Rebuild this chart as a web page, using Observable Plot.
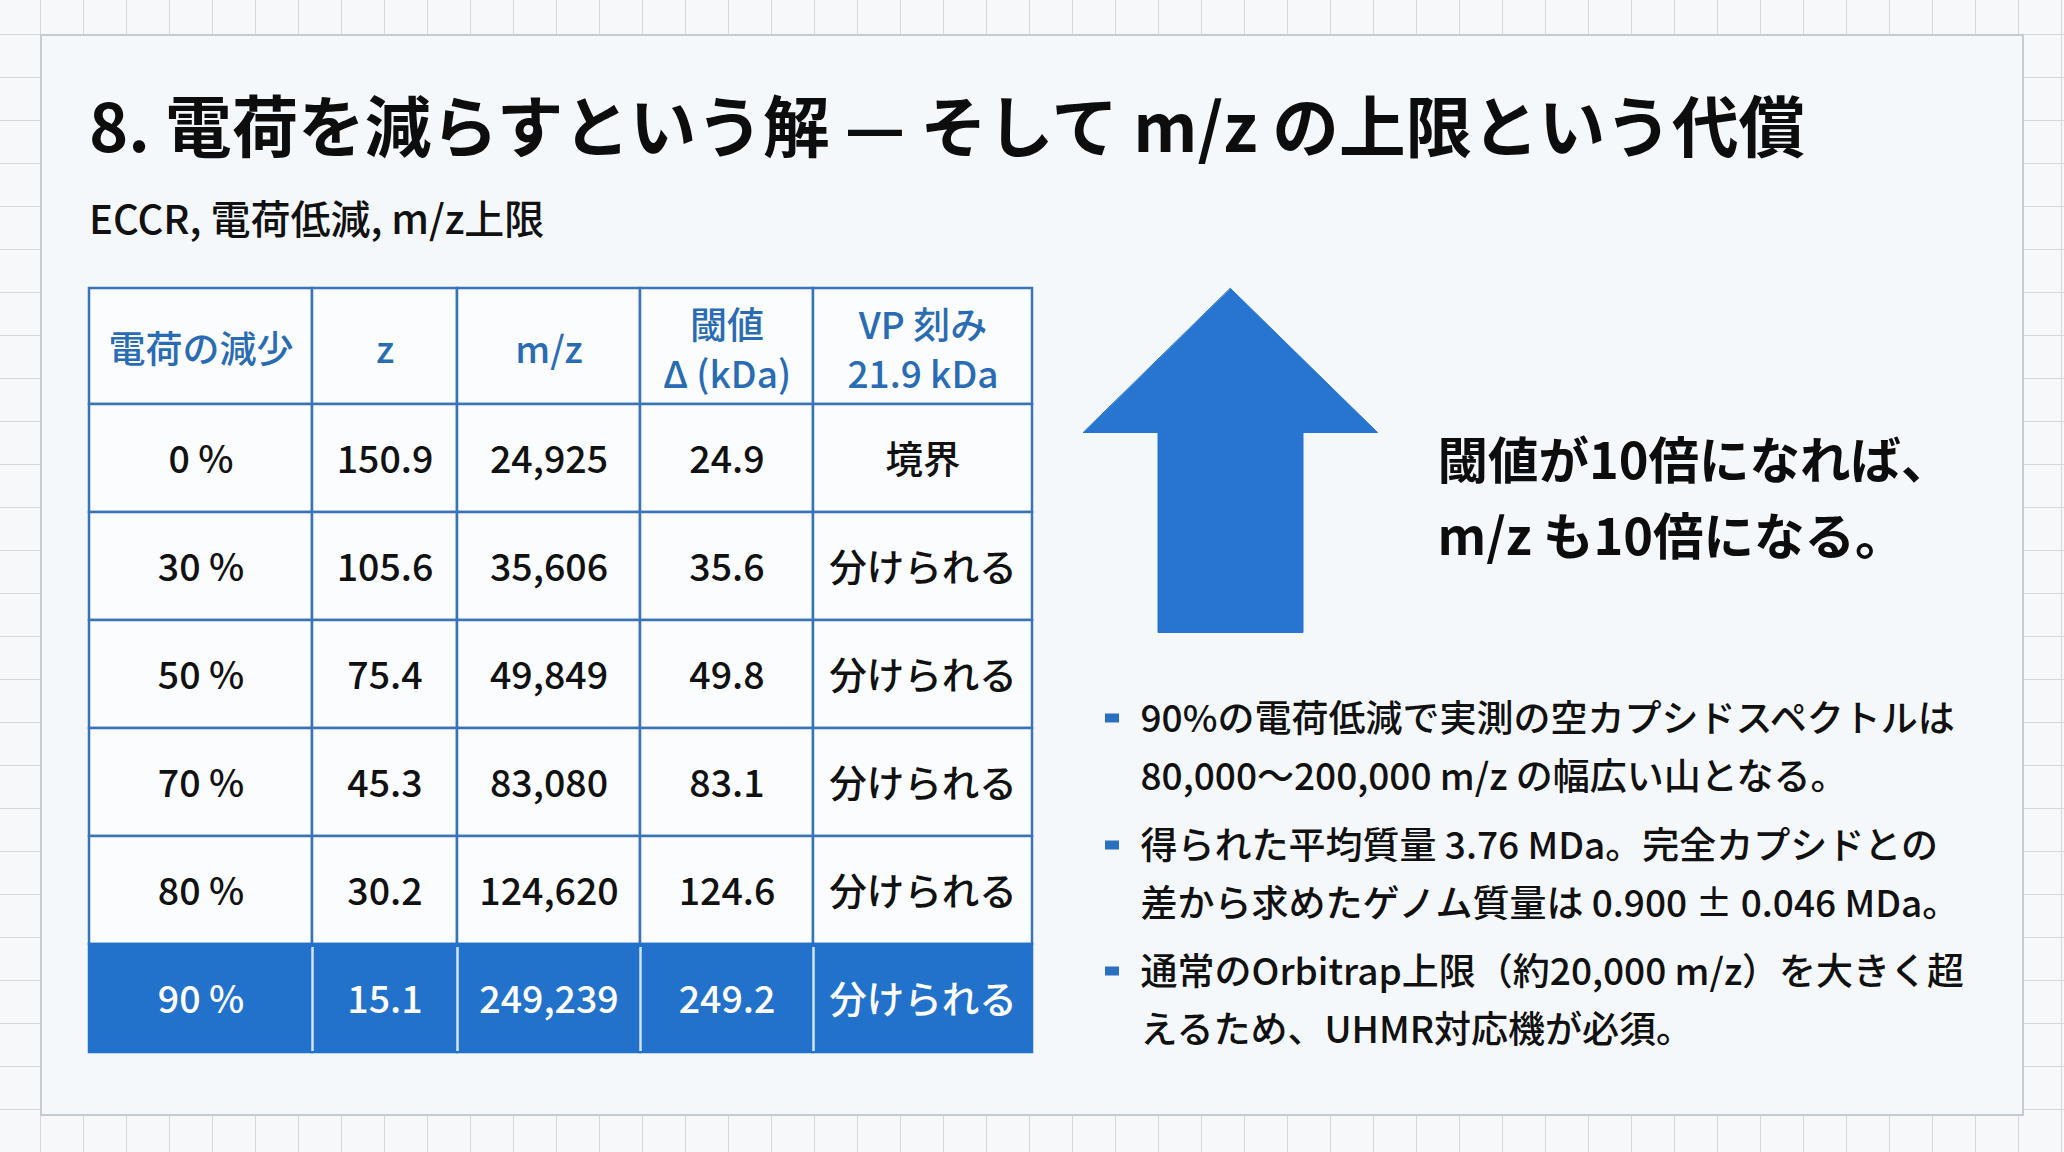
<!DOCTYPE html>
<html><head><meta charset="utf-8">
<script src="https://cdn.jsdelivr.net/npm/d3@7"></script>
<script src="https://cdn.jsdelivr.net/npm/@observablehq/plot@0.6"></script>
<style>
html,body{margin:0;padding:0;}
body{width:2064px;height:1152px;overflow:hidden;position:relative;font-family:"Noto Sans CJK JP","Noto Sans",sans-serif;
 background-color:#f6f8fa;
 background-image:linear-gradient(to right,#d3d8de 1.5px,transparent 1.5px),linear-gradient(to bottom,#d3d8de 1.5px,transparent 1.5px);
 background-size:43px 43px;background-position:40px 34px;}
#panel{position:absolute;left:40px;top:34px;width:1984px;height:1082px;box-sizing:border-box;border:2px solid #c6cbd1;background:#f5f8fb;}
#title{position:absolute;left:89px;top:90px;font-size:66.6px;font-weight:700;line-height:1;white-space:nowrap;color:#0d0d0d;margin:0;}
#subtitle{position:absolute;left:89px;top:197px;font-size:40px;font-weight:500;line-height:1;white-space:nowrap;color:#111;margin:0;}
#chart{position:absolute;left:0;top:260px;}
</style></head>
<body>
<div id="panel"></div>
<h1 id="title">8. 電荷を減らすという解 — そして m/z の上限という代償</h1>
<div id="subtitle">ECCR, 電荷低減, m/z上限</div>
<div id="chart"></div>
<script>
// ---- data ----
const headers = ["電荷の減少", "z", "m/z", "閾値\nΔ (kDa)", "VP 刻み\n21.9 kDa"];
const reduction = ["0 %", "30 %", "50 %", "70 %", "80 %", "90 %"];
const charge = [150.9, 105.6, 75.4, 45.3, 30.2, 15.1];
const mz = [24925, 35606, 49849, 83080, 124620, 249239];
const threshold = [24.9, 35.6, 49.8, 83.1, 124.6, 249.2];
const vpResult = ["境界", "分けられる", "分けられる", "分けられる", "分けられる", "分けられる"];
const highlightRow = "90 %";
const arrowNote = ["閾値が10倍になれば、", "m/z も10倍になる。"];
const bullets = [
  ["90%の電荷低減で実測の空カプシドスペクトルは", "80,000～200,000 m/z の幅広い山となる。"],
  ["得られた平均質量 3.76 MDa。完全カプシドとの", "差から求めたゲノム質量は 0.900 ± 0.046 MDa。"],
  ["通常のOrbitrap上限（約20,000 m/z）を大きく超", "えるため、UHMR対応機が必須。"]
];

// ---- layout ----
const W = 2064, TOP = 260, H = 880;
const colW = [223, 145, 183, 173, 219];
const tableX = 89, tableY = 288, headH = 116, rowH = 108;
const colEdges = [tableX];
colW.forEach(w => colEdges.push(colEdges[colEdges.length - 1] + w));
const rowEdges = [tableY, tableY + headH];
reduction.forEach(() => rowEdges.push(rowEdges[rowEdges.length - 1] + rowH));

const fmtMz = d3.format(",");
const cells = [];
headers.forEach((h, c) => cells.push({r: 0, c, text: h, head: true, hl: false}));
reduction.forEach((red, i) => {
  const vals = [red, charge[i].toFixed(1), fmtMz(mz[i]), threshold[i].toFixed(1), vpResult[i]];
  vals.forEach((v, c) => cells.push({r: i + 1, c, text: v, head: false, hl: red === highlightRow}));
});
cells.forEach(d => {
  d.x1 = colEdges[d.c]; d.x2 = colEdges[d.c + 1];
  d.y1 = rowEdges[d.r]; d.y2 = rowEdges[d.r + 1];
  d.cx = (d.x1 + d.x2) / 2; d.cy = (d.y1 + d.y2) / 2;
});
const normal = cells.filter(d => !d.hl);
const hl = cells.filter(d => d.hl);

// arrow geometry
const ax = 1230, tipY = 288, baseY = 432, headHalf = 147, shaftHalf = 72.5, botY = 632;
const arrow = [
  [ax, tipY], [ax + headHalf, baseY], [ax + shaftHalf, baseY], [ax + shaftHalf, botY],
  [ax - shaftHalf, botY], [ax - shaftHalf, baseY], [ax - headHalf, baseY]
].map(([x, y]) => ({x, y}));

const bulletStart = [713, 840, 966], bulletGap = 58;
const bulletData = bullets.map((lines, i) => ({text: lines.join("\n"), y0: bulletStart[i]}));

const font = "Noto Sans CJK JP";
const chart = Plot.plot({
  width: W, height: H, margin: 0,
  x: {domain: [0, W], range: [0, W], axis: null},
  y: {domain: [TOP, TOP + H], range: [0, H], axis: null},
  style: {background: "transparent", fontFamily: font, overflow: "visible"},
  marks: [
    Plot.rect(normal, {x1: "x1", x2: "x2", y1: "y1", y2: "y2", fill: "#fbfcfe", stroke: "#3a74b6", strokeWidth: 2.5}),
    Plot.rect(hl, {x1: "x1", x2: "x2", y1: "y1", y2: "y2", fill: "#2272cc", stroke: "#2272cc", strokeWidth: 2.5}),
    Plot.ruleX(hl.slice(1), {x: "x1", y1: d => d.y1 + 3, y2: d => d.y2 - 1, stroke: "#d3e3f6", strokeWidth: 2.5}),
    Plot.text(cells.filter(d => d.head), {x: "cx", y: d => d.cy + 1, text: "text", fill: "#2a6cb3", fontSize: 37, fontWeight: 500, lineHeight: 1.35}),
    Plot.text(cells.filter(d => !d.head), {x: "cx", y: d => d.cy + 2, text: "text", fill: d => d.hl ? "#ffffff" : "#111111", fontSize: 37.5, fontWeight: 500}),
    Plot.line(arrow, {x: "x", y: "y", curve: "linear-closed", fill: "#2775d0", stroke: "#2775d0", strokeWidth: 1}),
    Plot.text([arrowNote.join("\n")], {x: 1437, y: 492, text: d => d, textAnchor: "start", fontSize: 50.5, fontWeight: 700, lineHeight: 1.5, fill: "#0d0d0d"}),
    Plot.rect(bulletData, {x1: 1105, x2: 1119, y1: d => d.y0 + 0.5, y2: d => d.y0 + 9.5, fill: "#2a6fc0"}),
    Plot.text(bulletData, {x: 1140, y: d => d.y0 + bulletGap / 2, text: "text", textAnchor: "start", fontSize: 37, fontWeight: 500, lineHeight: bulletGap / 37, fill: "#111111"})
  ]
});
document.getElementById("chart").appendChild(chart);
</script>
</body></html>
